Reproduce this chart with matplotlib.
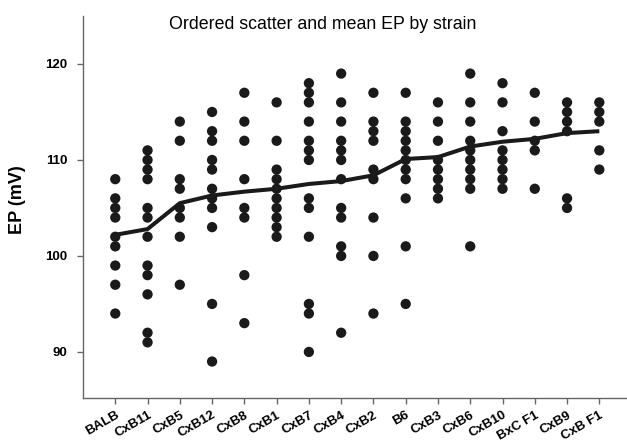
import matplotlib
matplotlib.use("Agg")
import matplotlib.pyplot as plt

plt.rcParams['font.family'] = ['Liberation Sans', 'DejaVu Sans']

strains = ["BALB", "CxB11", "CxB5", "CxB12", "CxB8", "CxB1", "CxB7", "CxB4",
           "CxB2", "B6", "CxB3", "CxB6", "CxB10", "BxC F1", "CxB9", "CxB F1"]

# Individual EP measurements (mV) per strain
ep_balb = [108, 106, 105, 104, 102, 101, 99, 97, 94]
ep_cxb11 = [111, 110, 109, 108, 105, 104, 102, 99, 98, 96, 92, 91]
ep_cxb5 = [114, 112, 108, 107, 105, 104, 102, 97]
ep_cxb12 = [115, 113, 112, 110, 109, 107, 106, 105, 103, 95, 89]
ep_cxb8 = [117, 114, 112, 108, 105, 104, 98, 93]
ep_cxb1 = [116, 112, 109, 108, 107, 106, 105, 104, 103, 102]
ep_cxb7 = [118, 117, 116, 114, 112, 111, 110, 106, 105, 102, 95, 94, 90]
ep_cxb4 = [119, 116, 114, 112, 111, 110, 108, 105, 104, 101, 100, 92]
ep_cxb2 = [117, 114, 113, 112, 109, 108, 104, 100, 94]
ep_b6 = [117, 114, 113, 112, 111, 110, 109, 108, 106, 101, 95]
ep_cxb3 = [116, 114, 112, 110, 109, 108, 107, 106]
ep_cxb6 = [119, 116, 114, 112, 111, 110, 109, 108, 107, 101]
ep_cxb10 = [118, 116, 113, 111, 110, 109, 108, 107]
ep_bxcf1 = [117, 114, 112, 111, 107]
ep_cxb9 = [116, 115, 114, 113, 106, 105]
ep_cxbf1 = [116, 115, 114, 111, 109]

strain_values = [ep_balb, ep_cxb11, ep_cxb5, ep_cxb12, ep_cxb8, ep_cxb1, ep_cxb7,
                 ep_cxb4, ep_cxb2, ep_b6, ep_cxb3, ep_cxb6, ep_cxb10, ep_bxcf1,
                 ep_cxb9, ep_cxbf1]

# Strain means (mV)
ep_means = [102.2, 102.8, 105.5, 106.3, 106.7, 107.0, 107.5, 107.8,
            108.4, 110.1, 110.3, 111.4, 111.9, 112.2, 112.8, 113.0]

yticks = [90, 100, 110, 120]

W, H = 627, 442
fig = plt.figure(figsize=(W / 100, H / 100), dpi=100)
ax_w = 17 * 32.27 / W
ax = fig.add_axes([83 / W, (H - 398) / H, ax_w, 382 / H])

ink = "#1a1a1a"
for i, vals in enumerate(strain_values):
    ax.scatter([i] * len(vals), vals, s=55, color=ink, edgecolors="none", zorder=2)

ax.plot(range(len(strains)), ep_means, color=ink, lw=2.9, zorder=3,
        solid_capstyle="butt")

ax.set_xlim(-1, 16)
ax.set_ylim(85.2, 125)
ax.set_yticks(yticks)
ax.set_yticklabels([str(t) for t in yticks], fontsize=9.5, fontweight="bold")
ax.set_xticks(range(len(strains)))
ax.set_xticklabels(strains, rotation=30, ha="right", rotation_mode="anchor",
                   fontsize=9.5, fontweight="bold")

for side in ("top", "right"):
    ax.spines[side].set_visible(False)
for side in ("left", "bottom"):
    ax.spines[side].set_color("#666666")
    ax.spines[side].set_linewidth(1.0)
ax.tick_params(axis="y", direction="out", length=4, width=1.0,
               color="#666666", pad=7)
ax.tick_params(axis="x", direction="out", length=4, width=1.0,
               color="#666666", pad=4)

fig.text(17 / W, 1 - 200 / H, "EP (mV)", rotation=90, ha="center", va="center",
         fontsize=13, fontweight="bold")

fig.text(323 / W, 1 - 29 / H, "Ordered scatter and mean EP by strain",
         ha="center", va="baseline", fontsize=12.8)

fig.savefig("out.png", dpi=100)
